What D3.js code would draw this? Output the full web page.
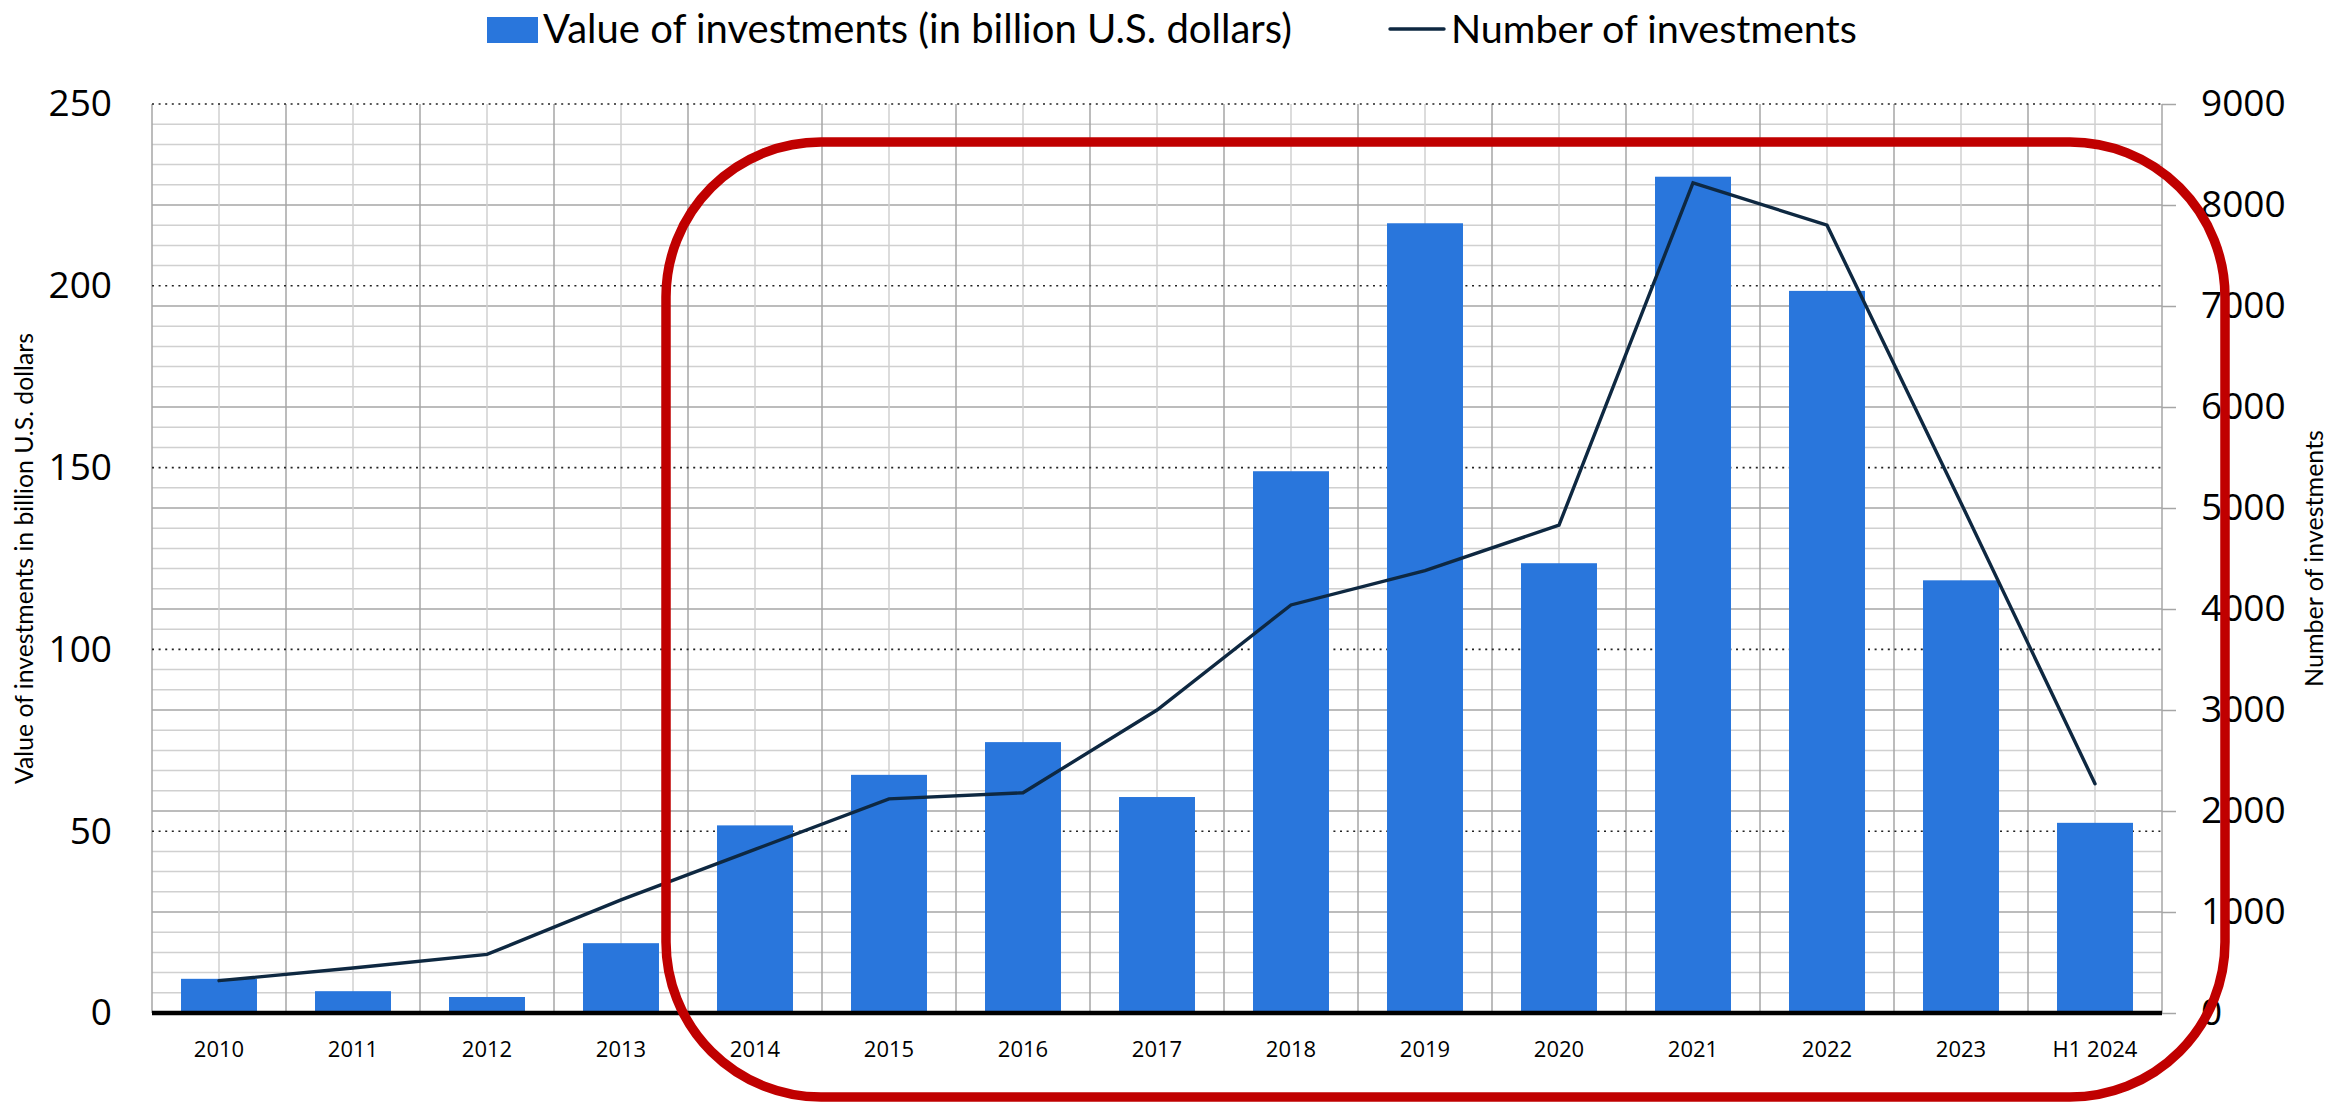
<!DOCTYPE html>
<html>
<head>
<meta charset="utf-8">
<script src="https://cdn.jsdelivr.net/npm/d3@7"></script>
<style>
  html, body { margin: 0; padding: 0; background: #ffffff; }
  svg { display: block; }
</style>
</head>
<body>
<svg id="chart" width="2333" height="1103"></svg>
<script>
// ---- data ----
const categories = ["2010", "2011", "2012", "2013", "2014", "2015", "2016", "2017",
                    "2018", "2019", "2020", "2021", "2022", "2023", "H1 2024"];
const investmentValue = [9.4, 6.0, 4.4, 19.2, 51.6, 65.5, 74.5, 59.4,
                         149.0, 217.2, 123.7, 230.0, 198.6, 119.0, 52.3];
const investmentCount = [320, 445, 580, 1120, 1620, 2120, 2180, 3000,
                         4040, 4380, 4830, 8220, 7800, 5050, 2270];
const valueTicks = [0, 50, 100, 150, 200, 250];
const countTicks = [0, 1000, 2000, 3000, 4000, 5000, 6000, 7000, 8000, 9000];
const legendLabels = ["Value of investments (in billion U.S. dollars)", "Number of investments"];
const axisTitles = ["Value of investments in billion U.S. dollars", "Number of investments"];

// ---- layout ----
const plot = { left: 152, right: 2162, top: 104, bottom: 1013 };
const barColor = "#2976dc";
const lineColor = "#0e2841";
const minorGrid = "#d0d0d0";
const majorGrid = "#a6a6a6";
const tickFont = "'Open Sans', 'DejaVu Sans', sans-serif";
const titleFont = "Lato, 'Open Sans', sans-serif";

const svg = d3.select("#chart");

const x = d3.scaleBand()
  .domain(categories)
  .range([plot.left, plot.right])
  .paddingInner(0.433)
  .paddingOuter(0.2165);
const step = x.step();
const yValue = d3.scaleLinear().domain([0, 250]).range([plot.bottom, plot.top]);
const yCount = d3.scaleLinear().domain([0, 9000]).range([plot.bottom, plot.top]);

// ---- grid ----
const grid = svg.append("g").attr("class", "grid");

// horizontal cell lines every 200 deals, heavier every 1000; skipped where a dotted value line sits
const minorValues = d3.range(200, 9000, 200).filter(v => v % 1800 !== 0);
grid.selectAll("line.h")
  .data(minorValues)
  .join("line")
  .attr("class", "h")
  .attr("x1", plot.left).attr("x2", plot.right)
  .attr("y1", d => yCount(d)).attr("y2", d => yCount(d))
  .attr("stroke", d => d % 1000 === 0 ? majorGrid : minorGrid)
  .attr("stroke-width", 1.5);

// vertical lines: category centres (light) and category boundaries (darker)
grid.selectAll("line.vc")
  .data(categories)
  .join("line")
  .attr("class", "vc")
  .attr("x1", d => x(d) + x.bandwidth() / 2).attr("x2", d => x(d) + x.bandwidth() / 2)
  .attr("y1", plot.top).attr("y2", plot.bottom)
  .attr("stroke", minorGrid).attr("stroke-width", 1.5);
grid.selectAll("line.vb")
  .data(d3.range(categories.length + 1))
  .join("line")
  .attr("class", "vb")
  .attr("x1", i => plot.left + i * step).attr("x2", i => plot.left + i * step)
  .attr("y1", plot.top).attr("y2", plot.bottom)
  .attr("stroke", majorGrid).attr("stroke-width", 1.5);

// dotted lines at the value-axis ticks
grid.selectAll("line.dot")
  .data(valueTicks.filter(v => v > 0))
  .join("line")
  .attr("class", "dot")
  .attr("x1", plot.left).attr("x2", plot.right)
  .attr("y1", d => yValue(d)).attr("y2", d => yValue(d))
  .attr("stroke", "#222").attr("stroke-width", 1.6)
  .attr("stroke-dasharray", "2,4.6");

// ---- bars ----
svg.append("g")
  .selectAll("rect")
  .data(categories.map((c, i) => ({ c, v: investmentValue[i] })))
  .join("rect")
  .attr("x", d => x(d.c))
  .attr("width", x.bandwidth())
  .attr("y", d => yValue(d.v))
  .attr("height", d => plot.bottom - yValue(d.v))
  .attr("fill", barColor);

// ---- line ----
const countLine = d3.line()
  .x(d => x(d.c) + x.bandwidth() / 2)
  .y(d => yCount(d.v));
svg.append("path")
  .datum(categories.map((c, i) => ({ c, v: investmentCount[i] })))
  .attr("d", countLine)
  .attr("fill", "none")
  .attr("stroke", lineColor)
  .attr("stroke-width", 3.4)
  .attr("stroke-linecap", "round");

// ---- baseline ----
svg.append("line")
  .attr("x1", plot.left).attr("x2", plot.right)
  .attr("y1", plot.bottom).attr("y2", plot.bottom)
  .attr("stroke", "#000").attr("stroke-width", 4.5);

// ---- axes ----
const leftAxis = svg.append("g")
  .attr("transform", `translate(${plot.left},0)`)
  .call(d3.axisLeft(yValue).tickValues(valueTicks).tickFormat(d3.format("d"))
    .tickSize(0).tickPadding(40));
leftAxis.select(".domain").remove();
leftAxis.selectAll("text")
  .attr("fill", "#000")
  .style("font-family", tickFont).style("font-size", "37px");

const rightAxis = svg.append("g")
  .attr("transform", `translate(${plot.right},0)`)
  .call(d3.axisRight(yCount).tickValues(countTicks).tickFormat(d3.format("d"))
    .tickSize(14).tickPadding(25));
rightAxis.select(".domain").remove();
rightAxis.selectAll("line").attr("stroke", majorGrid).attr("stroke-width", 1.5);
rightAxis.selectAll("text")
  .attr("fill", "#000")
  .style("font-family", tickFont).style("font-size", "37px");

const bottomAxis = svg.append("g")
  .attr("transform", `translate(0,${plot.bottom})`)
  .call(d3.axisBottom(x).tickSize(0).tickPadding(28));
bottomAxis.select(".domain").remove();
bottomAxis.selectAll("text")
  .attr("fill", "#000")
  .style("font-family", tickFont).style("font-size", "22px");

// scale a label's font so that it spans the given length
function fitText(sel, length) {
  sel.style("font-size", "100px");
  const w = sel.node().getComputedTextLength();
  sel.style("font-size", (100 * length / w) + "px");
  return sel;
}

// ---- axis titles ----
fitText(svg.append("text")
  .attr("transform", `translate(33,${(plot.top + plot.bottom) / 2}) rotate(-90)`)
  .attr("text-anchor", "middle")
  .style("font-family", titleFont)
  .attr("fill", "#000")
  .text(axisTitles[0]), 451);

fitText(svg.append("text")
  .attr("transform", `translate(2323,${(plot.top + plot.bottom) / 2}) rotate(-90)`)
  .attr("text-anchor", "middle")
  .style("font-family", titleFont)
  .attr("fill", "#000")
  .text(axisTitles[1]), 257);

// ---- legend ----
const legend = svg.append("g");
legend.append("rect")
  .attr("x", 487).attr("y", 17).attr("width", 51).attr("height", 26)
  .attr("fill", barColor);
fitText(legend.append("text")
  .attr("x", 543).attr("y", 43)
  .style("font-family", titleFont)
  .attr("fill", "#000")
  .text(legendLabels[0]), 749);
legend.append("line")
  .attr("x1", 1390).attr("x2", 1444).attr("y1", 29).attr("y2", 29)
  .attr("stroke", lineColor).attr("stroke-width", 3.4).attr("stroke-linecap", "round");
fitText(legend.append("text")
  .attr("x", 1451).attr("y", 43)
  .style("font-family", titleFont)
  .attr("fill", "#000")
  .text(legendLabels[1]), 406);

// ---- highlight frame around 2014 onwards ----
svg.append("rect")
  .attr("x", 666).attr("y", 142)
  .attr("width", 2225 - 666).attr("height", 1097 - 142)
  .attr("rx", 155).attr("ry", 155)
  .attr("fill", "none")
  .attr("stroke", "#c00000")
  .attr("stroke-width", 9.5);
</script>
</body>
</html>
